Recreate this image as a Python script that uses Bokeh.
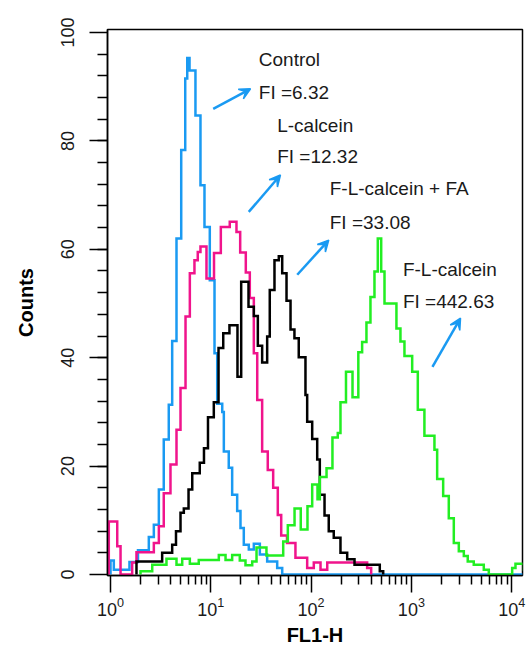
from bokeh.plotting import figure
from bokeh.models import FixedTicker, Arrow, VeeHead, Range1d, ColumnDataSource
from bokeh.core.properties import value
from bokeh.embed import file_html
from bokeh.resources import INLINE

# ---- data: histogram bin edges given as log10(FL1-H), counts per bin ----
control_log_edges = [0.000, 0.033, 0.189, 0.274, 0.382, 0.432, 0.482, 0.531, 0.581, 0.615,
                     0.658, 0.705, 0.745, 0.765, 0.788, 0.847, 0.897, 0.937, 0.990, 1.037,
                     1.064, 1.114, 1.130, 1.179, 1.213, 1.263, 1.296, 1.329, 1.379, 1.429,
                     1.489, 1.562, 1.662, 1.712, 4.110]
control_counts = [2.6, 0.9, 2.3, 4.5, 6.9, 9.2, 15.7, 24.9, 31.3, 43.1,
                  62.0, 78.3, 91.5, 95.3, 93.0, 84.7, 71.8, 64.1, 54.3, 40.8,
                  31.5, 30.0, 22.7, 19.7, 14.7, 11.7, 8.6, 5.5, 4.6, 5.7,
                  3.7, 2.4, 1.2, 0.0]

lcalcein_log_edges = [-0.017, 0.067, 0.100, 0.216, 0.259, 0.432, 0.482, 0.531, 0.598, 0.658,
                      0.698, 0.748, 0.791, 0.837, 0.870, 0.897, 0.957, 1.032, 1.100, 1.189,
                      1.256, 1.293, 1.349, 1.389, 1.429, 1.463, 1.512, 1.568, 1.622, 1.668,
                      1.702, 1.760, 1.844, 1.961, 2.027, 2.094, 2.161, 2.559, 2.599]
lcalcein_counts = [9.8, 5.2, 0.0, 2.2, 4.1, 5.8, 8.9, 15.0, 20.3, 26.7,
                   34.4, 47.6, 55.6, 58.0, 59.5, 60.5, 54.6, 59.3, 64.1, 65.1,
                   63.2, 59.4, 55.7, 51.0, 40.8, 32.2, 22.7, 19.3, 16.0, 11.0,
                   7.2, 5.8, 3.1, 1.2, 2.2, 0.9, 2.2, 1.2]

flcalcein_fa_log_edges = [0.259, 0.515, 0.615, 0.653, 0.698, 0.731, 0.778, 0.815, 0.890, 0.932,
                          0.972, 1.030, 1.077, 1.124, 1.186, 1.266, 1.303, 1.376, 1.429, 1.469,
                          1.512, 1.562, 1.588, 1.635, 1.678, 1.712, 1.755, 1.795, 1.834, 1.877,
                          1.944, 1.961, 2.011, 2.061, 2.087, 2.134, 2.176, 2.226, 2.293, 2.360,
                          2.433, 2.685, 2.719]
flcalcein_fa_counts = [2.4, 4.0, 5.5, 8.0, 11.4, 12.2, 15.7, 18.7, 20.6, 23.3,
                       29.0, 31.8, 41.8, 44.5, 46.0, 36.5, 54.0, 49.4, 47.7, 42.2,
                       39.1, 43.9, 52.5, 58.0, 58.7, 55.6, 50.5, 45.2, 43.6, 40.1,
                       33.1, 28.2, 25.0, 21.2, 14.7, 10.9, 8.0, 6.8, 4.0, 2.8,
                       1.8, 0.6]

flcalcein_log_edges = [0.299, 0.416, 0.558, 0.658, 0.715, 0.791, 0.880, 1.080, 1.147, 1.213,
                       1.289, 1.346, 1.413, 1.456, 1.555, 1.722, 1.768, 1.835, 1.897, 1.964,
                       2.011, 2.064, 2.087, 2.154, 2.213, 2.266, 2.293, 2.348, 2.413, 2.471,
                       2.509, 2.552, 2.592, 2.632, 2.665, 2.699, 2.732, 2.851, 2.891, 2.931,
                       3.008, 3.064, 3.130, 3.230, 3.257, 3.317, 3.373, 3.423, 3.473, 3.523,
                       3.562, 3.622, 3.722, 3.772, 4.005, 4.038, 4.121, 4.171]
flcalcein_counts = [0.6, 1.8, 2.9, 1.8, 2.9, 2.0, 2.7, 3.6, 2.7, 3.6,
                    2.6, 1.7, 2.4, 5.0, 3.5, 6.1, 9.1, 12.2, 8.3, 12.6,
                    16.6, 13.9, 18.0, 19.6, 25.3, 26.1, 31.8, 37.4, 32.7, 41.0,
                    42.9, 46.5, 51.2, 55.9, 62.0, 55.9, 50.0, 45.4, 43.0, 40.3,
                    37.4, 30.4, 25.6, 23.0, 17.6, 14.5, 10.4, 5.8, 4.3, 3.4,
                    2.4, 1.8, 0.9, 0.0, 1.2, 2.0, 0.9]

x_tick_values = [1, 10, 100, 1000, 10000]
y_tick_values = [0, 20, 40, 60, 80, 100]

annotation_texts = ["Control", "FI =6.32", "L-calcein", "FI =12.32",
                    "F-L-calcein + FA", "FI =33.08", "F-L-calcein", "FI =442.63"]

# annotation placement (data coordinates)
annotation_x = [30.1, 30.1, 45.9, 45.9, 153.5, 153.5, 823.0, 823.0]
annotation_y = [95.0, 88.9, 82.9, 77.1, 71.3, 64.9, 56.2, 50.3]
arrow_x0 = [10.57, 23.9, 72.8, 1622.0]
arrow_y0 = [85.9, 66.9, 55.3, 38.3]
arrow_x1 = [24.9, 49.5, 150.0, 3090.0]
arrow_y1 = [89.6, 73.7, 61.7, 47.3]

BLUE = "#1a9af2"
PINK = "#f0148c"
GREEN = "#22ee22"
BLACK = "#000000"
FONT = "Liberation Sans"


def step_path(log_edges, counts):
    xs = [10 ** log_edges[0]]
    ys = [0.0]
    for i, c in enumerate(counts):
        xs += [10 ** log_edges[i], 10 ** log_edges[i + 1]]
        ys += [c, c]
    xs.append(10 ** log_edges[-1])
    ys.append(0.0)
    return xs, ys


p = figure(width=530, height=648, x_axis_type="log",
           x_range=Range1d(10 ** -0.03, 10 ** 4.108),
           y_range=Range1d(-0.18, 100.55),
           output_backend="svg", toolbar_location=None,
           min_border_left=107, min_border_right=8,
           min_border_top=29, min_border_bottom=72)

p.background_fill_color = "white"
p.border_fill_color = "white"
p.outline_line_color = "black"
p.outline_line_width = 1.5
p.xgrid.visible = False
p.ygrid.visible = False

for edges, counts, color in [
        (control_log_edges, control_counts, BLUE),
        (lcalcein_log_edges, lcalcein_counts, PINK),
        (flcalcein_fa_log_edges, flcalcein_fa_counts, BLACK),
        (flcalcein_log_edges, flcalcein_counts, GREEN)]:
    xs, ys = step_path(edges, counts)
    p.line(xs, ys, line_color=color, line_width=2.5, line_join="miter")

# arrows
arrow_src = ColumnDataSource(dict(x0=arrow_x0, y0=arrow_y0, x1=arrow_x1, y1=arrow_y1))
p.add_layout(Arrow(source=arrow_src, x_start="x0", y_start="y0", x_end="x1", y_end="y1",
                   line_color=BLUE, line_width=2.5,
                   end=VeeHead(size=11, line_color=BLUE, fill_color=BLUE, line_width=1.5)))

# labels
p.text(x=annotation_x, y=annotation_y, text=annotation_texts,
       text_font=value(FONT), text_font_size="19px", text_color="#1a1a1a",
       text_baseline="middle", text_align="left")

# axes
minor_x = [m * d for d in [1, 10, 100, 1000] for m in range(2, 10)]
p.xaxis.ticker = FixedTicker(ticks=x_tick_values, minor_ticks=minor_x)
p.yaxis.ticker = FixedTicker(ticks=y_tick_values, minor_ticks=list(range(4, 100, 4)))

for ax in (p.xaxis[0], p.yaxis[0]):
    ax.axis_line_width = 1.5
    ax.major_tick_line_width = 1.5
    ax.minor_tick_line_width = 1.5
    ax.major_tick_in = 0
    ax.minor_tick_in = 0
    ax.major_label_text_font = FONT
    ax.major_label_text_font_size = "18px"
    ax.major_label_text_color = "#1a1a1a"
    ax.axis_label_text_font = FONT
    ax.axis_label_text_font_size = "20px"
    ax.axis_label_text_font_style = "bold"
    ax.axis_label_text_color = "black"

p.xaxis.major_tick_out = 17
p.xaxis.minor_tick_out = 9
p.xaxis.major_label_standoff = 4
p.xaxis.axis_label = "FL1-H"
p.xaxis.axis_label_standoff = 5

p.yaxis.major_tick_out = 18
p.yaxis.minor_tick_out = 10
p.yaxis.major_label_orientation = "vertical"
p.yaxis.major_label_standoff = 15
p.yaxis.axis_label = "Counts"
p.yaxis.axis_label_standoff = 22

open("out.html", "w").write(file_html(p, INLINE))
